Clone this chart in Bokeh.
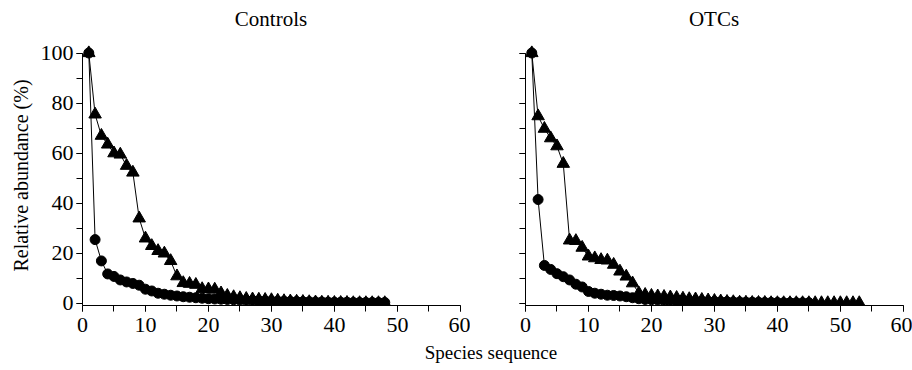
from bokeh.plotting import figure
from bokeh.models import Range1d, SingleIntervalTicker, Div, CustomJSTickFormatter
from bokeh.layouts import column, row
from bokeh.embed import file_html
from bokeh.resources import INLINE

FONT = "Liberation Serif"

panel_titles = ["Controls", "OTCs"]
y_label = "Relative abundance (%)"
x_label = "Species sequence"

# Controls
ctrl_circle = [100, 25.5, 17.0, 11.8, 10.8, 9.4, 8.6, 8.0, 7.3, 5.7, 5.0, 4.1, 3.7, 3.3, 3.0,
               2.7, 2.5, 2.3, 2.1, 1.9, 1.8, 1.7, 1.6, 1.5, 1.4, 1.3, 1.2, 1.1, 1.0, 1.0,
               0.9, 0.9, 0.8, 0.8, 0.7, 0.7, 0.6, 0.6, 0.5, 0.5, 0.5, 0.5, 0.4, 0.4, 0.4,
               0.4, 0.4, 0.4]
ctrl_triangle = [100, 75.5, 67.0, 63.5, 60.0, 59.5, 55.0, 52.3, 34.0, 26.0, 23.0, 21.0, 20.0,
                 17.0, 10.9, 8.2, 7.9, 7.5, 5.8, 5.7, 5.6, 4.1, 3.1, 2.6, 2.2, 1.9, 1.7, 1.6,
                 1.5, 1.4, 1.2, 1.0, 0.9, 0.8, 0.7, 0.6, 0.5, 0.4, 0.4, 0.3, 0.3, 0.3, 0.2,
                 0.2, 0.2, 0.2, 0.2, 0.2]

# OTCs
otc_circle = [100, 41.5, 15.2, 13.6, 11.9, 10.7, 9.4, 7.7, 6.6, 4.8, 4.1, 3.7, 3.3, 3.2, 3.0,
              2.7, 2.3, 1.9, 1.6, 1.5, 1.4, 1.3, 1.2, 1.1, 1.1, 1.0, 0.9, 0.9, 0.8, 0.8,
              0.7, 0.7, 0.6, 0.6, 0.5, 0.5, 0.5, 0.4, 0.4, 0.4, 0.3, 0.3, 0.3, 0.3, 0.3]
otc_triangle = [100, 74.8, 69.8, 66.0, 62.8, 55.8, 25.2, 25.0, 22.3, 18.8, 18.1, 17.4, 17.2,
                15.5, 12.8, 10.8, 8.1, 4.1, 3.5, 3.1, 2.9, 2.7, 2.5, 2.3, 2.0, 1.8, 1.7,
                1.5, 1.3, 1.1, 0.9, 0.7, 0.6, 0.4, 0.4, 0.3, 0.3, 0.3, 0.2, 0.2, 0.2, 0.2,
                0.2, 0.2, 0.2, 0.2, 0.2, 0.2, 0.2, 0.2, 0.2, 0.2, 0.2]

x_ticks_interval = 10
y_ticks_interval = 20

Y0 = -0.8


def make_panel(circles, triangles, show_y_labels, border_left, border_right):
    p = figure(frame_width=381, frame_height=260,
               x_range=Range1d(0, 60.5), y_range=Range1d(Y0, 103),
               output_backend="svg", toolbar_location=None,
               min_border_left=border_left, min_border_right=border_right,
               min_border_top=14, min_border_bottom=31)
    p.outline_line_color = None
    p.grid.visible = False
    p.background_fill_color = "white"
    p.border_fill_color = "white"

    xt = list(range(1, len(triangles) + 1))
    xc = list(range(1, len(circles) + 1))
    p.line(xt, triangles, line_color="black", line_width=1)
    p.scatter(xt, triangles, marker="triangle", size=12.5, fill_color="black", line_color="black")
    p.line(xc, circles, line_color="black", line_width=1)
    p.scatter(xc, circles, marker="circle", size=10, fill_color="black", line_color="black")

    for ax in (p.xaxis[0], p.yaxis[0]):
        ax.axis_line_color = "black"
        ax.axis_line_width = 1
        ax.major_tick_in = 0
        ax.minor_tick_in = 0
        ax.major_tick_out = 6
        ax.minor_tick_out = 6
        ax.major_tick_line_color = "black"
        ax.minor_tick_line_color = "black"
        ax.major_label_text_font = FONT
        ax.major_label_text_font_size = "22px"
        ax.major_label_text_color = "black"

    p.xaxis[0].ticker = SingleIntervalTicker(interval=x_ticks_interval, num_minor_ticks=2)
    p.xaxis[0].bounds = (0, 60)
    p.xaxis[0].major_label_standoff = 6
    p.yaxis[0].ticker = SingleIntervalTicker(interval=y_ticks_interval, num_minor_ticks=2)
    p.yaxis[0].bounds = (Y0, 100)
    p.yaxis[0].major_label_standoff = 3
    if show_y_labels:
        p.yaxis[0].axis_label = y_label
        p.yaxis[0].axis_label_text_font = FONT
        p.yaxis[0].axis_label_text_font_size = "20px"
        p.yaxis[0].axis_label_text_font_style = "normal"
        p.yaxis[0].axis_label_text_color = "black"
        p.yaxis[0].axis_label_standoff = 6
    else:
        p.yaxis[0].formatter = CustomJSTickFormatter(code="return ''")
    p.margin = 0
    return p


def title_div(text, width, center):
    # center: horizontal pixel of the frame centre within this column
    return Div(text=text, width=width, height=24, margin=(7, 0, 0, 0),
               styles={"font-family": FONT, "font-size": "21px", "color": "black",
                       "line-height": "24px", "width": f"{width}px",
                       "text-align": "center",
                       "padding-left": f"{2 * center - width}px" if 2 * center > width else "0px",
                       "box-sizing": "border-box"})


p1 = make_panel(ctrl_circle, ctrl_triangle, True, 82, 7)
p2 = make_panel(otc_circle, otc_triangle, False, 55, 6)

t1 = title_div(panel_titles[0], 470, 271)
t2 = title_div(panel_titles[1], 442, 244)

lab = Div(text=x_label, width=842, height=30, margin=(3, 0, 0, 70),
          styles={"text-align": "center", "font-family": FONT, "font-size": "19px",
                  "color": "black", "width": "842px"})

layout = column(row(t1, t2, margin=0), row(p1, p2, margin=0), lab, margin=0)
open("out.html", "w").write(file_html(layout, INLINE))
